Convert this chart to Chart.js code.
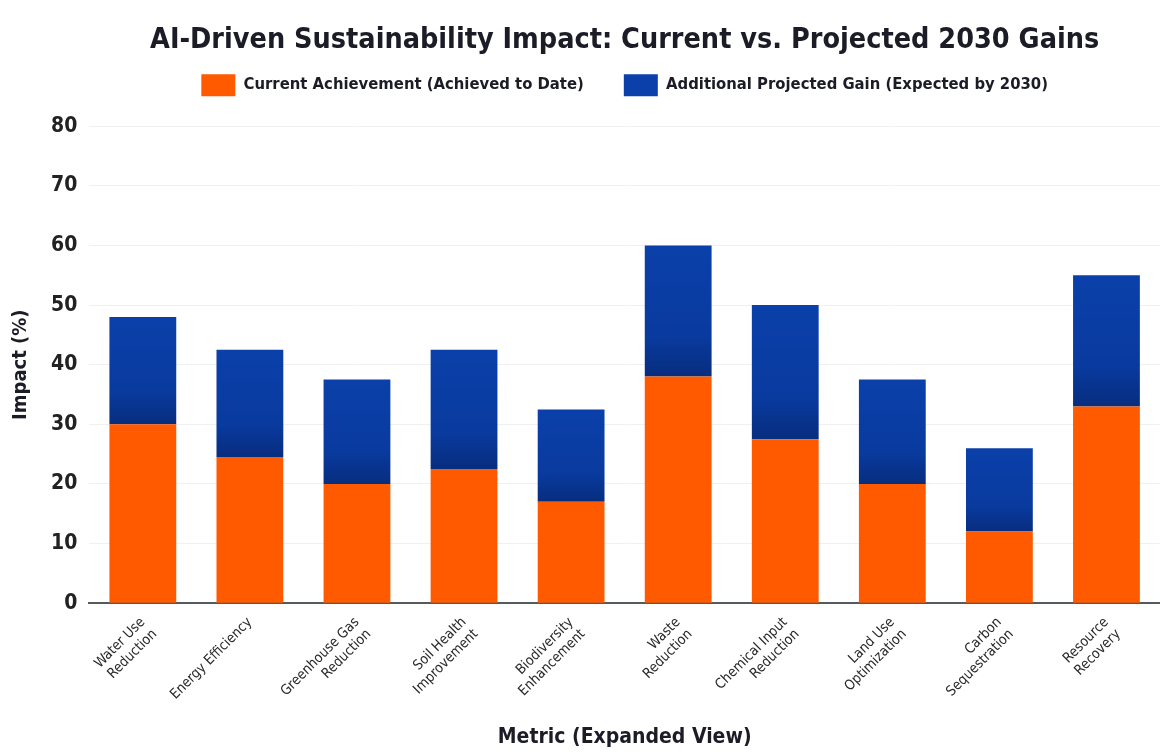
<!DOCTYPE html>
<html>
<head>
<meta charset="utf-8">
<script src="https://cdn.jsdelivr.net/npm/chart.js@4.4.0/dist/chart.umd.min.js"></script>
<style>
  body { margin: 0; background: #fff; }
  #wrap { width: 1160px; height: 754px; }
</style>
</head>
<body>
<div id="wrap"><canvas id="impactChart" width="1160" height="754"></canvas></div>
<script>
const metrics = [
    ['Water Use', 'Reduction'],
    'Energy Efficiency',
    ['Greenhouse Gas', 'Reduction'],
    ['Soil Health', 'Improvement'],
    ['Biodiversity', 'Enhancement'],
    ['Waste', 'Reduction'],
    ['Chemical Input', 'Reduction'],
    ['Land Use', 'Optimization'],
    ['Carbon', 'Sequestration'],
    ['Resource', 'Recovery']
];
const currentAchievement = [30, 24.5, 20, 22.5, 17, 38, 27.5, 20, 12, 33];
const additionalGain = [18, 18, 17.5, 20, 15.5, 22, 22.5, 17.5, 14, 22];
const yTicks = [0, 10, 20, 30, 40, 50, 60, 70, 80];

const narrow = "'DejaVu Sans Condensed', 'Liberation Sans Narrow', sans-serif";
const ORANGE = '#ff5a00';
const BLUE = '#0a3fa8';

// blue segment gets darker toward the orange part
function blueFill(ctx) {
    const chart = ctx.chart;
    const i = ctx.dataIndex;
    if (!chart.chartArea || i === undefined) return BLUE;
    const y = chart.scales.y;
    const top = y.getPixelForValue(currentAchievement[i] + additionalGain[i]);
    const bottom = y.getPixelForValue(currentAchievement[i]);
    const g = chart.ctx.createLinearGradient(0, top, 0, bottom);
    g.addColorStop(0, '#0b40aa');
    g.addColorStop(0.7, '#093a9e');
    g.addColorStop(1, '#072d7e');
    return g;
}

// extra room between legend and plot
const legendGap = {
    id: 'legendGap',
    beforeInit(chart) {
        const fit = chart.legend.fit;
        chart.legend.fit = function () {
            fit.call(this);
            this.height += 20;
        };
    }
};

document.addEventListener('DOMContentLoaded', () => {
    const canvas = document.getElementById('impactChart');

    new Chart(canvas, {
        type: 'bar',
        data: {
            labels: metrics,
            datasets: [{
                label: 'Current Achievement (Achieved to Date)',
                data: currentAchievement,
                backgroundColor: ORANGE,
                categoryPercentage: 0.8,
                barPercentage: 0.78
            }, {
                label: 'Additional Projected Gain (Expected by 2030)',
                data: additionalGain,
                backgroundColor: blueFill,
                categoryPercentage: 0.8,
                barPercentage: 0.78
            }]
        },
        plugins: [legendGap],
        options: {
            responsive: false,
            animation: false,
            layout: { padding: { left: 5, right: 0, top: 0, bottom: 0 } },
            plugins: {
                title: {
                    display: true,
                    fullSize: false,
                    text: 'AI-Driven Sustainability Impact: Current vs. Projected 2030 Gains',
                    color: '#1b1c26',
                    font: { family: narrow, size: 28.5, weight: 'bold' },
                    padding: { top: 23, bottom: -23 }
                },
                legend: {
                    position: 'top',
                    fullSize: false,
                    labels: {
                        boxWidth: 34,
                        boxHeight: 22,
                        padding: 40,
                        color: '#1b1c26',
                        font: { family: narrow, size: 16.5, weight: 'bold' }
                    }
                },
                tooltip: { enabled: false }
            },
            scales: {
                x: {
                    stacked: true,
                    grid: { display: false },
                    border: { display: true, color: '#555a60', width: 2 },
                    ticks: {
                        maxRotation: 45,
                        minRotation: 45,
                        color: '#2a2a2a',
                        font: { family: narrow, size: 14 }
                    },
                    title: {
                        display: true,
                        text: 'Metric (Expanded View)',
                        color: '#1b1c26',
                        font: { family: narrow, size: 21, weight: 'bold' },
                        padding: { top: 7 }
                    }
                },
                y: {
                    stacked: true,
                    min: 0,
                    max: 80,
                    afterBuildTicks: axis => { axis.ticks = yTicks.map(v => ({ value: v })); },
                    grid: { color: '#f0f0f0', drawTicks: false },
                    border: { display: false },
                    ticks: {
                        padding: 12,
                        color: '#222',
                        font: { family: narrow, size: 21, weight: 'bold' }
                    },
                    title: {
                        display: true,
                        text: 'Impact (%)',
                        color: '#1b1c26',
                        font: { family: narrow, size: 20, weight: 'bold' },
                        padding: { bottom: 6 }
                    }
                }
            }
        }
    });
});
</script>
</body>
</html>
